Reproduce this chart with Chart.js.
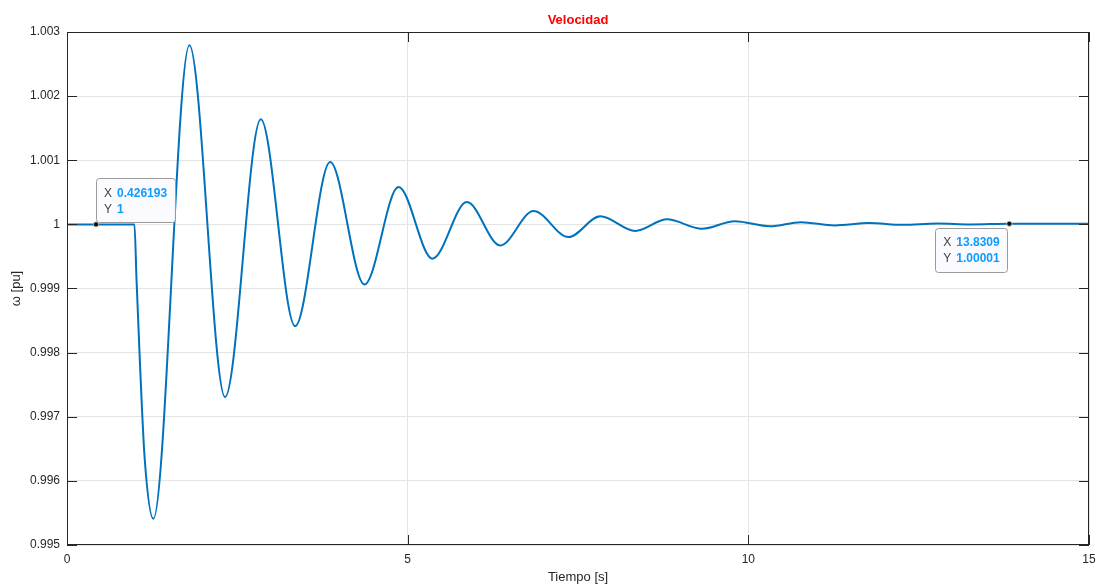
<!DOCTYPE html>
<html>
<head>
<meta charset="utf-8">
<script src="https://cdn.jsdelivr.net/npm/chart.js@4.4.0/dist/chart.umd.min.js"></script>
<style>
html,body{margin:0;padding:0;background:#fff;}
#wrap{width:1099px;height:586px;position:relative;}
</style>
</head>
<body>
<div id="wrap"><canvas id="c" width="1099" height="586"></canvas></div>
<script>
// ---- data ----
const timeS = [0, 0.426193, 0.99, 1.02, 1.07, 1.14, 1.267, 1.796, 2.32, 2.844, 3.348, 3.862, 4.366, 4.866, 5.364, 5.869, 6.358, 6.848, 7.36, 7.827, 8.34, 8.806, 9.32, 9.80, 10.32, 10.77, 11.27, 11.77, 12.27, 12.77, 13.27, 13.8309, 14.4, 15];
const omegaPu = [1, 1, 1, 0.99915, 0.99785, 0.99635, 0.99541, 1.002793, 0.997306, 1.001638, 0.998414, 1.000972, 0.999064, 1.000582, 0.999465, 1.000348, 0.999672, 1.000208, 0.999802, 1.000125, 0.999896, 1.000078, 0.999932, 1.00005, 0.999972, 1.000035, 0.999984, 1.00002, 0.999993, 1.000012, 0.999998, 1.00001, 1.00001, 1.00001];
const xTicks = [0, 5, 10, 15];
const yTicks = [0.995, 0.996, 0.997, 0.998, 0.999, 1, 1.001, 1.002, 1.003];
const yTickLabels = ['0.995', '0.996', '0.997', '0.998', '0.999', '1', '1.001', '1.002', '1.003'];
const tipX = [0.426193, 13.8309];
const tipY = [1, 1.00001];
const tipXLabels = ['0.426193', '13.8309'];
const tipYLabels = ['1', '1.00001'];
const titleText = 'Velocidad';
const xTitle = 'Tiempo [s]';
const yTitle = 'ω [pu]';

const points = timeS.map((t, i) => ({x: t, y: omegaPu[i]}));
const AX = '#262626';
const FONT = '"Liberation Sans", Arial, Helvetica, sans-serif';

const decor = {
  id: 'decor',
  afterDraw(chart) {
    const ctx = chart.ctx;
    const a = chart.chartArea;
    const xs = chart.scales.x, ys = chart.scales.y;
    ctx.save();
    // box
    ctx.strokeStyle = AX;
    ctx.lineWidth = 1;
    ctx.strokeRect(a.left + 0.5, a.top + 0.5, a.right - a.left - 1, a.bottom - a.top - 1);
    // inner ticks
    const tl = 10;
    ctx.beginPath();
    xTicks.forEach(v => {
      const px = Math.round(xs.getPixelForValue(v)) + 0.5;
      ctx.moveTo(px, a.bottom); ctx.lineTo(px, a.bottom - tl);
      ctx.moveTo(px, a.top); ctx.lineTo(px, a.top + tl);
    });
    yTicks.forEach(v => {
      const py = Math.round(ys.getPixelForValue(v)) + 0.5;
      ctx.moveTo(a.left, py); ctx.lineTo(a.left + tl, py);
      ctx.moveTo(a.right, py); ctx.lineTo(a.right - tl, py);
    });
    ctx.stroke();
    // title
    ctx.fillStyle = '#ff0000';
    ctx.font = 'bold 13px ' + FONT;
    ctx.textAlign = 'center';
    ctx.textBaseline = 'middle';
    ctx.fillText(titleText, (a.left + a.right) / 2, 20);
    // axis titles
    ctx.fillStyle = AX;
    ctx.font = '13px ' + FONT;
    ctx.fillText(xTitle, (a.left + a.right) / 2, 577);
    ctx.save();
    ctx.translate(16, (a.top + a.bottom) / 2);
    ctx.rotate(-Math.PI / 2);
    ctx.fillText(yTitle, 0, 0);
    ctx.restore();
    // data tips
    tipX.forEach((tx, i) => {
      const px = xs.getPixelForValue(tx);
      const py = ys.getPixelForValue(tipY[i]);
      ctx.font = 'bold 12px ' + FONT;
      const w1 = ctx.measureText(tipXLabels[i]).width;
      const w2 = ctx.measureText(tipYLabels[i]).width;
      const bw = Math.round(21 + Math.max(w1, w2) + 8);
      const bh = 44;
      let bx, by;
      if (i === 0) { bx = px; by = py - 2 - bh; }
      else { bx = px - 2 - bw; by = py + 4; }
      ctx.fillStyle = 'rgba(250,250,255,0.95)';
      ctx.strokeStyle = '#9a9a9a';
      ctx.lineWidth = 1;
      ctx.beginPath();
      if (ctx.roundRect) ctx.roundRect(Math.round(bx) + 0.5, Math.round(by) + 0.5, bw, bh, 3);
      else ctx.rect(Math.round(bx) + 0.5, Math.round(by) + 0.5, bw, bh);
      ctx.fill(); ctx.stroke();
      ctx.textAlign = 'left';
      ctx.textBaseline = 'middle';
      ctx.font = '12px ' + FONT;
      ctx.fillStyle = '#404040';
      ctx.fillText('X', bx + 8, by + 15);
      ctx.fillText('Y', bx + 8, by + 31);
      ctx.font = 'bold 12px ' + FONT;
      ctx.fillStyle = '#0f9cff';
      ctx.fillText(tipXLabels[i], bx + 21, by + 15);
      ctx.fillText(tipYLabels[i], bx + 21, by + 31);
      // marker
      ctx.beginPath();
      ctx.arc(px, py, 2.6, 0, Math.PI * 2);
      ctx.fillStyle = '#111';
      ctx.fill();
      ctx.strokeStyle = '#d8d8a0';
      ctx.lineWidth = 0.8;
      ctx.stroke();
    });
    ctx.restore();
  }
};

new Chart(document.getElementById('c'), {
  type: 'line',
  data: {
    datasets: [{
      data: points,
      borderColor: '#0072BD',
      borderWidth: 2,
      pointRadius: 0,
      fill: false,
      cubicInterpolationMode: 'monotone'
    }]
  },
  options: {
    responsive: false,
    animation: false,
    events: [],
    layout: {padding: {left: 0, right: 10, top: 32, bottom: 0}},
    plugins: {legend: {display: false}, tooltip: {enabled: false}, title: {display: false}},
    scales: {
      x: {
        type: 'linear', min: 0, max: 15,
        afterBuildTicks: s => { s.ticks = xTicks.map(v => ({value: v})); },
        afterFit: s => { s.height = 41; s.paddingLeft = 0; s.paddingRight = 0; },
        grid: {color: '#e4e4e4', drawTicks: false, lineWidth: 1},
        border: {display: false},
        ticks: {padding: 7, color: AX, font: {family: FONT, size: 12}, maxRotation: 0, autoSkip: false,
          callback: v => String(v)}
      },
      y: {
        type: 'linear', min: 0.995, max: 1.003,
        afterBuildTicks: s => { s.ticks = yTicks.map(v => ({value: v})); },
        afterFit: s => { s.width = 67; s.paddingTop = 0; s.paddingBottom = 0; },
        grid: {color: '#e4e4e4', drawTicks: false, lineWidth: 1},
        border: {display: false},
        ticks: {padding: 7, color: AX, font: {family: FONT, size: 12}, autoSkip: false,
          callback: (v, idx) => yTickLabels[idx]}
      }
    }
  },
  plugins: [decor]
});
</script>
</body>
</html>
